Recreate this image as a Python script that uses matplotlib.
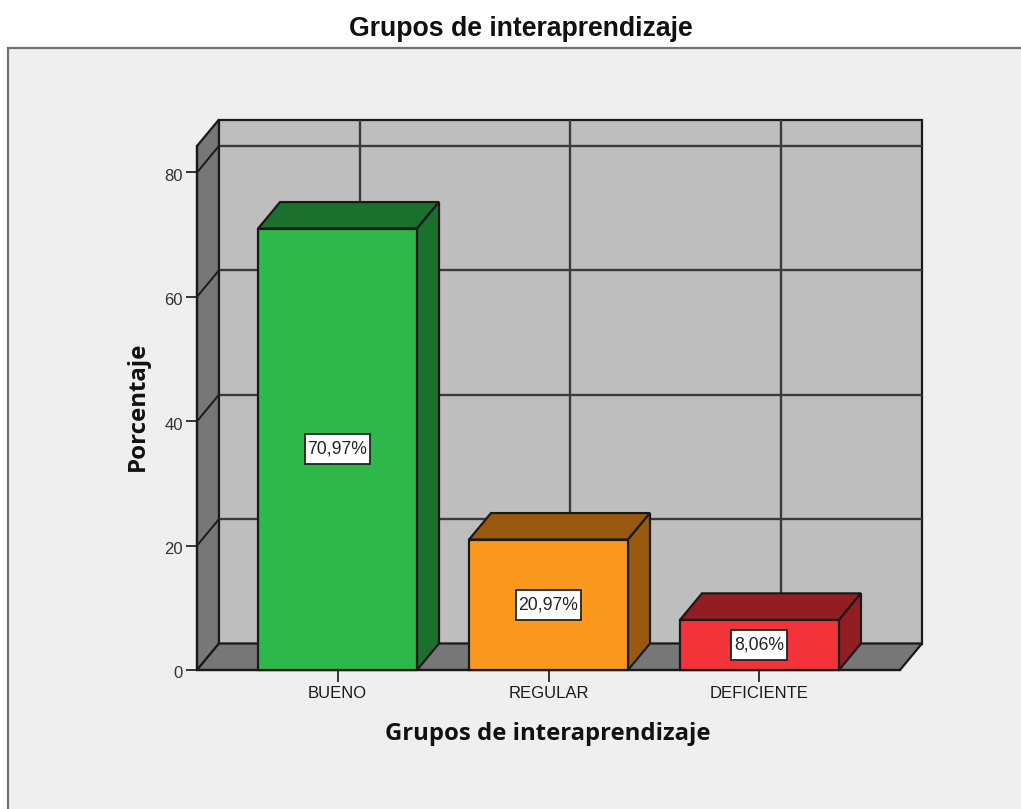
import matplotlib
matplotlib.use('Agg')
import matplotlib.pyplot as plt
from matplotlib.patches import Polygon, Rectangle
from matplotlib.transforms import ScaledTranslation

categories = ['BUENO', 'REGULAR', 'DEFICIENTE']
percent = [70.97, 20.97, 8.06]
value_labels = ['70,97%', '20,97%', '8,06%']
y_ticks = [0, 20, 40, 60, 80]

front_colors = ['#2FB84A', '#FB981E', '#F2333A']
side_colors = ['#1C702E', '#995A10', '#931E22']

W, H = 1021, 809
plt.rcParams['font.family'] = ['Liberation Sans', 'DejaVu Sans']

fig = plt.figure(figsize=(W / 100, H / 100), dpi=100, facecolor='white')
fig.patches.append(Rectangle((8 / W, -0.05), 1.1, (H - 48) / H + 0.05, transform=fig.transFigure,
                             facecolor='#EFEFEF', edgecolor='#707070', linewidth=1.6, zorder=-1))

ax = fig.add_axes([197 / W, (H - 670) / H, 703 / W, 524 / H])
ax.patch.set_visible(False)
x_min, x_max = -0.666, 2.666
y_scale = 6.22  # px per percent
y_top = 524 / y_scale
ax.set_xlim(x_min, x_max)
ax.set_ylim(0, y_top)

# depth of the fake 3d box, in data units
dx = 22 / 211
dy = 26.5 / y_scale
bar_w = 159 / 211
edge = '#1A1A1A'


def poly(pts, fc, z, lw=1.6):
    ax.add_patch(Polygon(pts, closed=True, facecolor=fc, edgecolor=edge, linewidth=lw,
                         clip_on=False, zorder=z, joinstyle='miter'))


# walls and floor
poly([(x_min, 0), (x_min + dx, dy), (x_min + dx, y_top + dy), (x_min, y_top)], '#777777', 1)
poly([(x_min + dx, dy), (x_max + dx, dy), (x_max + dx, y_top + dy), (x_min + dx, y_top + dy)], '#BEBEBE', 1)
poly([(x_min, 0), (x_max, 0), (x_max + dx, dy), (x_min + dx, dy)], '#777777', 1)

# grid on the walls
for v in y_ticks[1:]:
    ax.plot([x_min + dx, x_max + dx], [v + dy, v + dy], color='#3A3A3A', lw=1.7, clip_on=False, zorder=2,
            solid_capstyle='butt')
    ax.plot([x_min, x_min + dx], [v, v + dy], color='#1A1A1A', lw=1.4, clip_on=False, zorder=2)
for i in range(len(categories)):
    ax.plot([i + dx, i + dx], [dy, y_top + dy], color='#3A3A3A', lw=1.7, clip_on=False, zorder=2,
            solid_capstyle='butt')

# bars
renderer = fig.canvas.get_renderer()
for i, v in enumerate(percent):
    l = i - bar_w / 2
    r = i + bar_w / 2
    poly([(l, v), (r, v), (r + dx, v + dy), (l + dx, v + dy)], side_colors[i], 3)
    poly([(r, 0), (r + dx, dy), (r + dx, v + dy), (r, v)], side_colors[i], 3)
    poly([(l, 0), (r, 0), (r, v), (l, v)], front_colors[i], 4)
    t = ax.text(i, v / 2, value_labels[i], ha='center', va='center', fontsize=12.7, color='#222222', zorder=6)
    # label box is wider than the text by a few px, and a fixed 30 px tall
    box_w = (t.get_window_extent(renderer).width + 6) / 211
    box_h = 30 / y_scale
    ax.add_patch(Rectangle((i - box_w / 2, v / 2 - box_h / 2), box_w, box_h, facecolor='white',
                           edgecolor='#222222', linewidth=1.3, zorder=5))

for s in ['top', 'right']:
    ax.spines[s].set_visible(False)
for s in ['left', 'bottom']:
    ax.spines[s].set_color(edge)
    ax.spines[s].set_linewidth(1.6)
    ax.spines[s].set_zorder(3)

ax.set_xticks(range(len(categories)))
ax.set_xticklabels(categories)
ax.set_yticks(y_ticks)
ax.tick_params(axis='x', length=8.5, width=1.4, color='#333333', labelsize=12, labelcolor='#1A1A1A', pad=3)
ax.tick_params(axis='y', length=8, width=1.4, color='#333333', labelsize=12, labelcolor='#333333', pad=2)
# y labels sit a little below their ticks in the original
shift = ScaledTranslation(0, -2.5 / 100, fig.dpi_scale_trans)
for lab in ax.get_yticklabels():
    lab.set_transform(lab.get_transform() + shift)

fig.text(521 / W, 1 - 29 / H, 'Grupos de interaprendizaje', ha='center', va='center',
         fontsize=19.2, fontweight='bold', color='#111111')
fig.text(548 / W, 1 - 734 / H, 'Grupos de interaprendizaje', ha='center', va='center',
         fontsize=17.2, fontweight='bold', color='#111111', family=['Open Sans', 'DejaVu Sans'])
fig.text(138 / W, 1 - 406 / H, 'Porcentaje', ha='center', va='center', rotation=90,
         fontsize=17.3, fontweight='bold', color='#111111', family=['Open Sans', 'DejaVu Sans'])

fig.savefig('out.png', dpi=100)
